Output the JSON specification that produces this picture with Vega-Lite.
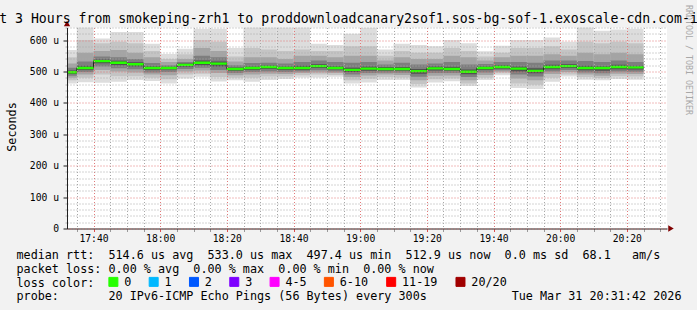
{
  "$schema": "https://vega.github.io/schema/vega-lite/v6.json",
  "width": 600,
  "height": 201,
  "autosize": {"type": "none"},
  "padding": {"left": 67, "top": 27.5, "right": 30, "bottom": 81.5},
  "background": "#f2f2f2",
  "config": {"view": {"fill": "white", "stroke": null}, "font": "DejaVu Sans Mono"},
  "title": {
    "text": "Last 3 Hours from smokeping-zrh1 to proddownloadcanary2sof1.sos-bg-sof-1.exoscale-cdn.com-ipv6",
    "font": "DejaVu Sans Mono", "fontSize": 13.2, "fontWeight": "normal", "color": "black",
    "anchor": "middle", "frame": "group", "dx": -18.5, "offset": -31.5, "baseline": "alphabetic"
  },
  "resolve": {"axis": {"y": "independent"}},
  "datasets": {
    "smoke": [
      {"t": "2026-03-31T17:30:00", "te": "2026-03-31T17:35:00", "mx": 568, "q18": 545, "q16": 525, "q14": 512, "q12": 503, "md": 497.4, "q9": 492, "q7": 486, "q5": 480, "q3": 472, "mn": 462, "loss": "0"},
      {"t": "2026-03-31T17:35:00", "te": "2026-03-31T17:40:00", "mx": 660, "q18": 600, "q16": 560, "q14": 532, "q12": 518, "md": 511, "q9": 505, "q7": 498, "q5": 490, "q3": 480, "mn": 466, "loss": "0"},
      {"t": "2026-03-31T17:40:00", "te": "2026-03-31T17:45:00", "mx": 605, "q18": 590, "q16": 565, "q14": 548, "q12": 538, "md": 533, "q9": 526, "q7": 516, "q5": 505, "q3": 490, "mn": 464, "loss": "0"},
      {"t": "2026-03-31T17:45:00", "te": "2026-03-31T17:50:00", "mx": 626, "q18": 595, "q16": 568, "q14": 545, "q12": 534, "md": 528, "q9": 520, "q7": 510, "q5": 500, "q3": 485, "mn": 467, "loss": "0"},
      {"t": "2026-03-31T17:50:00", "te": "2026-03-31T17:55:00", "mx": 626, "q18": 590, "q16": 560, "q14": 540, "q12": 529, "md": 523, "q9": 516, "q7": 507, "q5": 497, "q3": 485, "mn": 473, "loss": "0"},
      {"t": "2026-03-31T17:55:00", "te": "2026-03-31T18:00:00", "mx": 588, "q18": 565, "q16": 545, "q14": 527, "q12": 517, "md": 511, "q9": 505, "q7": 497, "q5": 490, "q3": 480, "mn": 470, "loss": "0"},
      {"t": "2026-03-31T18:00:00", "te": "2026-03-31T18:05:00", "mx": 556, "q18": 540, "q16": 530, "q14": 520, "q12": 515, "md": 511, "q9": 506, "q7": 498, "q5": 488, "q3": 475, "mn": 462, "loss": "0"},
      {"t": "2026-03-31T18:05:00", "te": "2026-03-31T18:10:00", "mx": 572, "q18": 555, "q16": 540, "q14": 530, "q12": 525, "md": 521, "q9": 515, "q7": 508, "q5": 500, "q3": 490, "mn": 478, "loss": "0"},
      {"t": "2026-03-31T18:10:00", "te": "2026-03-31T18:15:00", "mx": 636, "q18": 600, "q16": 575, "q14": 550, "q12": 535, "md": 528, "q9": 520, "q7": 512, "q5": 503, "q3": 493, "mn": 483, "loss": "0"},
      {"t": "2026-03-31T18:15:00", "te": "2026-03-31T18:20:00", "mx": 636, "q18": 595, "q16": 565, "q14": 545, "q12": 532, "md": 525, "q9": 516, "q7": 505, "q5": 495, "q3": 482, "mn": 468, "loss": "0"},
      {"t": "2026-03-31T18:20:00", "te": "2026-03-31T18:25:00", "mx": 575, "q18": 548, "q16": 532, "q14": 520, "q12": 513, "md": 508, "q9": 502, "q7": 495, "q5": 488, "q3": 480, "mn": 472, "loss": "0"},
      {"t": "2026-03-31T18:25:00", "te": "2026-03-31T18:30:00", "mx": 660, "q18": 575, "q16": 545, "q14": 527, "q12": 516, "md": 511, "q9": 505, "q7": 498, "q5": 490, "q3": 480, "mn": 467, "loss": "0"},
      {"t": "2026-03-31T18:30:00", "te": "2026-03-31T18:35:00", "mx": 660, "q18": 570, "q16": 545, "q14": 528, "q12": 519, "md": 514, "q9": 508, "q7": 500, "q5": 493, "q3": 484, "mn": 473, "loss": "0"},
      {"t": "2026-03-31T18:35:00", "te": "2026-03-31T18:40:00", "mx": 660, "q18": 565, "q16": 540, "q14": 525, "q12": 516, "md": 511, "q9": 505, "q7": 498, "q5": 492, "q3": 484, "mn": 476, "loss": "0"},
      {"t": "2026-03-31T18:40:00", "te": "2026-03-31T18:45:00", "mx": 650, "q18": 570, "q16": 550, "q14": 530, "q12": 518, "md": 511, "q9": 505, "q7": 500, "q5": 495, "q3": 488, "mn": 481, "loss": "0"},
      {"t": "2026-03-31T18:45:00", "te": "2026-03-31T18:50:00", "mx": 588, "q18": 565, "q16": 550, "q14": 535, "q12": 523, "md": 517, "q9": 511, "q7": 504, "q5": 497, "q3": 490, "mn": 481, "loss": "0"},
      {"t": "2026-03-31T18:50:00", "te": "2026-03-31T18:55:00", "mx": 584, "q18": 565, "q16": 545, "q14": 530, "q12": 517, "md": 511, "q9": 506, "q7": 500, "q5": 495, "q3": 489, "mn": 483, "loss": "0"},
      {"t": "2026-03-31T18:55:00", "te": "2026-03-31T19:00:00", "mx": 620, "q18": 580, "q16": 550, "q14": 528, "q12": 512, "md": 505, "q9": 498, "q7": 490, "q5": 482, "q3": 472, "mn": 462, "loss": "0"},
      {"t": "2026-03-31T19:00:00", "te": "2026-03-31T19:05:00", "mx": 640, "q18": 580, "q16": 550, "q14": 530, "q12": 516, "md": 509, "q9": 502, "q7": 495, "q5": 487, "q3": 477, "mn": 465, "loss": "0"},
      {"t": "2026-03-31T19:05:00", "te": "2026-03-31T19:10:00", "mx": 570, "q18": 550, "q16": 535, "q14": 522, "q12": 514, "md": 508, "q9": 502, "q7": 496, "q5": 490, "q3": 482, "mn": 473, "loss": "0"},
      {"t": "2026-03-31T19:10:00", "te": "2026-03-31T19:15:00", "mx": 588, "q18": 565, "q16": 545, "q14": 528, "q12": 514, "md": 508, "q9": 502, "q7": 496, "q5": 489, "q3": 481, "mn": 473, "loss": "0"},
      {"t": "2026-03-31T19:15:00", "te": "2026-03-31T19:20:00", "mx": 584, "q18": 560, "q16": 540, "q14": 522, "q12": 508, "md": 501, "q9": 493, "q7": 483, "q5": 472, "q3": 460, "mn": 449, "loss": "0"},
      {"t": "2026-03-31T19:20:00", "te": "2026-03-31T19:25:00", "mx": 580, "q18": 560, "q16": 540, "q14": 525, "q12": 516, "md": 510, "q9": 503, "q7": 495, "q5": 486, "q3": 475, "mn": 465, "loss": "0"},
      {"t": "2026-03-31T19:25:00", "te": "2026-03-31T19:30:00", "mx": 600, "q18": 575, "q16": 550, "q14": 530, "q12": 515, "md": 508, "q9": 502, "q7": 495, "q5": 487, "q3": 478, "mn": 469, "loss": "0"},
      {"t": "2026-03-31T19:30:00", "te": "2026-03-31T19:35:00", "mx": 590, "q18": 565, "q16": 545, "q14": 522, "q12": 506, "md": 499, "q9": 491, "q7": 482, "q5": 472, "q3": 462, "mn": 454, "loss": "0"},
      {"t": "2026-03-31T19:35:00", "te": "2026-03-31T19:40:00", "mx": 564, "q18": 548, "q16": 535, "q14": 524, "q12": 516, "md": 511, "q9": 505, "q7": 497, "q5": 489, "q3": 480, "mn": 473, "loss": "0"},
      {"t": "2026-03-31T19:40:00", "te": "2026-03-31T19:45:00", "mx": 582, "q18": 560, "q16": 545, "q14": 530, "q12": 520, "md": 514, "q9": 509, "q7": 504, "q5": 499, "q3": 494, "mn": 488, "loss": "0"},
      {"t": "2026-03-31T19:45:00", "te": "2026-03-31T19:50:00", "mx": 600, "q18": 575, "q16": 550, "q14": 530, "q12": 516, "md": 509, "q9": 500, "q7": 490, "q5": 478, "q3": 462, "mn": 447, "loss": "0"},
      {"t": "2026-03-31T19:50:00", "te": "2026-03-31T19:55:00", "mx": 600, "q18": 575, "q16": 550, "q14": 528, "q12": 510, "md": 502, "q9": 494, "q7": 484, "q5": 472, "q3": 458, "mn": 444, "loss": "0"},
      {"t": "2026-03-31T19:55:00", "te": "2026-03-31T20:00:00", "mx": 608, "q18": 580, "q16": 555, "q14": 535, "q12": 521, "md": 514, "q9": 507, "q7": 500, "q5": 492, "q3": 480, "mn": 467, "loss": "0"},
      {"t": "2026-03-31T20:00:00", "te": "2026-03-31T20:05:00", "mx": 595, "q18": 570, "q16": 550, "q14": 535, "q12": 523, "md": 517, "q9": 511, "q7": 505, "q5": 498, "q3": 490, "mn": 484, "loss": "0"},
      {"t": "2026-03-31T20:05:00", "te": "2026-03-31T20:10:00", "mx": 650, "q18": 595, "q16": 560, "q14": 533, "q12": 518, "md": 511, "q9": 504, "q7": 497, "q5": 490, "q3": 482, "mn": 474, "loss": "0"},
      {"t": "2026-03-31T20:10:00", "te": "2026-03-31T20:15:00", "mx": 630, "q18": 590, "q16": 555, "q14": 530, "q12": 517, "md": 511, "q9": 502, "q7": 494, "q5": 486, "q3": 479, "mn": 472, "loss": "0"},
      {"t": "2026-03-31T20:15:00", "te": "2026-03-31T20:20:00", "mx": 634, "q18": 595, "q16": 560, "q14": 535, "q12": 521, "md": 514, "q9": 507, "q7": 500, "q5": 493, "q3": 485, "mn": 476, "loss": "0"},
      {"t": "2026-03-31T20:20:00", "te": "2026-03-31T20:25:00", "mx": 636, "q18": 590, "q16": 555, "q14": 530, "q12": 518, "md": 512.9, "q9": 506, "q7": 499, "q5": 492, "q3": 484, "mn": 474, "loss": "0"}
    ]
  },
  "layer": [
    {
      "data": {"name": "smoke"},
      "mark": {"type": "rect", "color": "#dddddd", "clip": true},
      "encoding": {
        "x": {
          "field": "t", "type": "temporal",
          "scale": {"domain": [
            {"year": 2026, "month": 3, "date": 31, "hours": 17, "minutes": 32, "seconds": 3},
            {"year": 2026, "month": 3, "date": 31, "hours": 20, "minutes": 32, "seconds": 3}
          ]},
          "axis": {
            "tickCount": 36,
            "format": "%H:%M",
            "labelExpr": "minutes(datum.value) % 20 == 0 ? datum.label : ''",
            "labelFont": "DejaVu Sans Mono", "labelFontSize": 9.7, "labelColor": "black",
            "labelPadding": 2.3, "labelOverlap": false, "labelFlush": false,
            "tickSize": 3,
            "tickColor": {"condition": {"test": "minutes(datum.value) % 20 == 0", "value": "#de4f4f"}, "value": "#9a9a9a"},
            "grid": true,
            "gridColor": {"condition": {"test": "minutes(datum.value) % 20 == 0", "value": "#e27a7a"}, "value": "#a8a8a8"},
            "gridDash": [1, 2],
            "domainColor": "#212121", "domainWidth": 1,
            "zindex": 1,
            "title": [
              "median rtt:\u00a0\u00a0514.6 us avg\u00a0\u00a0533.0 us max\u00a0\u00a0497.4 us min\u00a0\u00a0512.9 us now\u00a0\u00a00.0 ms sd\u00a0\u00a068.1\u00a0\u00a0\u00a0am/s",
              "packet loss: 0.00 % avg\u00a0\u00a00.00 % max\u00a0\u00a00.00 % min\u00a0\u00a00.00 % now",
              "loss color:",
              "probe:\u00a0\u00a0\u00a0\u00a0\u00a0\u00a0\u00a020 IPv6-ICMP Echo Pings (56 Bytes) every 300s\u00a0\u00a0\u00a0\u00a0\u00a0\u00a0\u00a0\u00a0\u00a0\u00a0\u00a0\u00a0Tue Mar 31 20:31:42 2026"
            ],
            "titleFont": "DejaVu Sans Mono", "titleFontSize": 11.75, "titleFontWeight": "normal", "titleColor": "black",
            "titleAlign": "left", "titleAnchor": "start", "titleBaseline": "alphabetic",
            "titleX": -51, "titleY": 29.8, "titleLineHeight": 13.9
          }
        },
        "x2": {"field": "te"},
        "y": {
          "field": "mn", "type": "quantitative",
          "scale": {"domain": [0, 640], "nice": false, "zero": true},
          "axis": {
            "orient": "left",
            "values": [0, 100, 200, 300, 400, 500, 600],
            "labelExpr": "datum.value == 0 ? '0' : datum.value + ' u'",
            "labelFont": "DejaVu Sans Mono", "labelFontSize": 9.7, "labelColor": "black",
            "labelPadding": 4.5, "labelOverlap": false, "labelFlush": false,
            "tickSize": 4, "tickColor": "#212121",
            "grid": true, "gridColor": "#e27a7a", "gridDash": [1, 2],
            "domainColor": "#212121", "domainWidth": 1,
            "zindex": 2,
            "title": "Seconds",
            "titleFont": "DejaVu Sans Mono", "titleFontSize": 11.75, "titleFontWeight": "normal", "titleColor": "black",
            "titleAngle": -90, "titleAlign": "center", "titleBaseline": "middle",
            "titleX": -56, "titleY": 99
          }
        },
        "y2": {"field": "mx"}
      }
    },
    {
      "data": {"name": "smoke"},
      "mark": {"type": "rect", "color": "#c4c4c4", "clip": true},
      "encoding": {
        "x": {"field": "t", "type": "temporal"}, "x2": {"field": "te"},
        "y": {
          "field": "q3", "type": "quantitative",
          "axis": {
            "orient": "left",
            "values": [20, 40, 60, 80, 120, 140, 160, 180, 220, 240, 260, 280, 320, 340, 360, 380, 420, 440, 460, 480, 520, 540, 560, 580, 620, 640],
            "labels": false, "domain": false,
            "ticks": true, "tickSize": 2, "tickColor": "#b0b0b0",
            "grid": true, "gridColor": "#a8a8a8", "gridDash": [1, 2],
            "title": null, "zindex": 1
          }
        },
        "y2": {"field": "q18"}
      }
    },
    {
      "data": {"name": "smoke"},
      "mark": {"type": "rect", "color": "#a4a4a4", "clip": true},
      "encoding": {
        "x": {"field": "t", "type": "temporal"}, "x2": {"field": "te"},
        "y": {"field": "q5", "type": "quantitative", "axis": null}, "y2": {"field": "q16"}
      }
    },
    {
      "data": {"name": "smoke"},
      "mark": {"type": "rect", "color": "#7e7e7e", "clip": true},
      "encoding": {
        "x": {"field": "t", "type": "temporal"}, "x2": {"field": "te"},
        "y": {"field": "q7", "type": "quantitative", "axis": null}, "y2": {"field": "q14"}
      }
    },
    {
      "data": {"name": "smoke"},
      "mark": {"type": "rect", "color": "#505050", "clip": true},
      "encoding": {
        "x": {"field": "t", "type": "temporal"}, "x2": {"field": "te"},
        "y": {"field": "q9", "type": "quantitative", "axis": null}, "y2": {"field": "q12"}
      }
    },
    {
      "data": {"name": "smoke"},
      "mark": {"type": "line", "interpolate": "step-after", "color": "#202020", "strokeWidth": 1, "clip": true},
      "encoding": {
        "x": {"field": "t", "type": "temporal"},
        "y": {"field": "md", "type": "quantitative", "axis": null}
      }
    },
    {
      "data": {"name": "smoke"},
      "mark": {"type": "rule", "strokeWidth": 2.4, "clip": true},
      "encoding": {
        "x": {"field": "t", "type": "temporal"}, "x2": {"field": "te"},
        "y": {"field": "md", "type": "quantitative", "axis": null},
        "color": {
          "field": "loss", "type": "nominal",
          "scale": {
            "domain": ["0", "1", "2", "3", "4-5", "6-10", "11-19", "20/20"],
            "range": ["#26ff00", "#00b8ff", "#0059ff", "#7e00ff", "#ff00ff", "#ff5500", "#ff0000", "#a10000"]
          },
          "legend": {
            "orient": "none", "legendX": 40.5, "legendY": 248.5,
            "direction": "horizontal", "columns": 8, "gridAlign": "none", "title": null,
            "symbolType": "square", "symbolSize": 81, "symbolStrokeWidth": 1,
            "labelFont": "DejaVu Sans Mono", "labelFontSize": 11.75, "labelColor": "black",
            "labelOffset": 5, "columnPadding": 15.3, "padding": 0,
            "encode": {"symbols": {"update": {
              "fill": {"scale": "color", "field": "value"},
              "fillOpacity": {"value": 1},
              "stroke": {"value": "black"},
              "strokeWidth": {"value": 1}
            }}}
          }
        }
      }
    },
    {
      "data": {"values": [{"label": "RRDTOOL / TOBI OETIKER"}]},
      "mark": {"type": "text", "angle": 90, "font": "DejaVu Sans Mono", "fontSize": 8.3, "color": "#a8a8a8", "align": "center", "baseline": "middle", "dx": 32.5, "dy": -21},
      "encoding": {
        "x": {"datum": {"year": 2026, "month": 3, "date": 31, "hours": 20, "minutes": 32, "seconds": 3}, "type": "temporal"},
        "y": {"datum": 640, "type": "quantitative", "axis": null},
        "text": {"field": "label"}
      }
    },
    {
      "data": {"values": [{}]},
      "mark": {"type": "point", "shape": "triangle-up", "filled": true, "color": "#800000", "opacity": 1, "size": 40, "yOffset": -4},
      "encoding": {
        "x": {"datum": {"year": 2026, "month": 3, "date": 31, "hours": 17, "minutes": 32, "seconds": 3}, "type": "temporal"},
        "y": {"datum": 640, "type": "quantitative", "axis": null}
      }
    },
    {
      "data": {"values": [{}]},
      "mark": {"type": "point", "shape": "triangle-right", "filled": true, "color": "#800000", "opacity": 1, "size": 40, "xOffset": 4},
      "encoding": {
        "x": {"datum": {"year": 2026, "month": 3, "date": 31, "hours": 20, "minutes": 32, "seconds": 3}, "type": "temporal"},
        "y": {"datum": 0, "type": "quantitative", "axis": null}
      }
    }
  ]
}
